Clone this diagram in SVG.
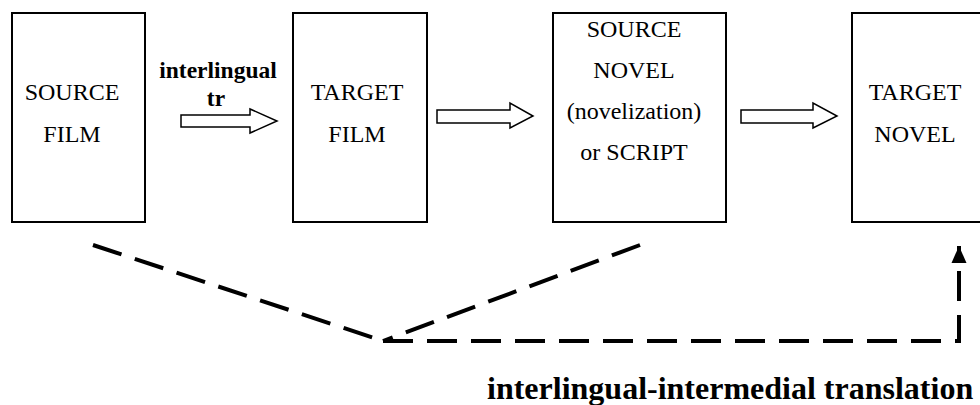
<svg xmlns="http://www.w3.org/2000/svg" width="980" height="405" viewBox="0 0 980 405">
<defs>
<style>
.box{fill:#fff;stroke:#000;stroke-width:2}
.t{font-family:'Liberation Serif','Tinos','DejaVu Serif',serif;font-size:24px;fill:#000;text-anchor:middle}
.b{font-family:'Liberation Serif','Tinos','DejaVu Serif',serif;font-weight:bold;fill:#000}
.blk{fill:#fff;stroke:#000;stroke-width:1.5;stroke-linejoin:miter}
.dash{fill:none;stroke:#000;stroke-width:4;stroke-dasharray:30 14}
</style>
<marker id="ah" markerWidth="17" markerHeight="16" refX="0" refY="0" orient="auto" markerUnits="userSpaceOnUse" viewBox="-17 -8 17 16">
<path d="M0,0 L-17,-7.5 L-17,7.5 Z" fill="#000"/>
</marker>
</defs>
<rect width="980" height="405" fill="#fff"/>
<g id="source-film">
<rect class="box" x="12" y="13" width="133" height="209"/>
<text class="t" x="72" y="100">SOURCE</text>
<text class="t" x="72" y="142">FILM</text>
</g>
<g id="target-film">
<rect class="box" x="293" y="13" width="134" height="209"/>
<text class="t" x="357" y="100">TARGET</text>
<text class="t" x="357" y="142">FILM</text>
</g>
<g id="source-novel">
<rect class="box" x="553" y="13" width="173" height="209"/>
<text class="t" x="634" y="37">SOURCE</text>
<text class="t" x="634" y="78">NOVEL</text>
<text class="t" x="634" y="119">(novelization)</text>
<text class="t" x="634" y="160">or SCRIPT</text>
</g>
<g id="target-novel">
<rect class="box" x="852" y="13" width="140" height="209"/>
<text class="t" x="915" y="100">TARGET</text>
<text class="t" x="915" y="142">NOVEL</text>
</g>
<g id="connectors">
<path class="blk" d="M181,115 H250 V109 L277,121 L250,133 V127 H181 Z"/>
<text class="b" font-size="23.5" text-anchor="middle" x="218" y="78">interlingual</text>
<text class="b" font-size="23.5" text-anchor="middle" x="216" y="106">tr</text>
<path class="blk" d="M437,110 H510 V103 L533,116 L510,128 V123 H437 Z"/>
<path class="blk" d="M741,110 H813 V103 L837,116 L813,128 V123 H741 Z"/>
<path class="dash" d="M93,245 L383,341"/>
<path class="dash" d="M640,245 L383,341"/>
<path class="dash" d="M383,341 H959 V246" marker-end="url(#ah)"/>
</g>
<text class="b" font-size="32" x="487" y="399">interlingual-intermedial translation</text>
</svg>
